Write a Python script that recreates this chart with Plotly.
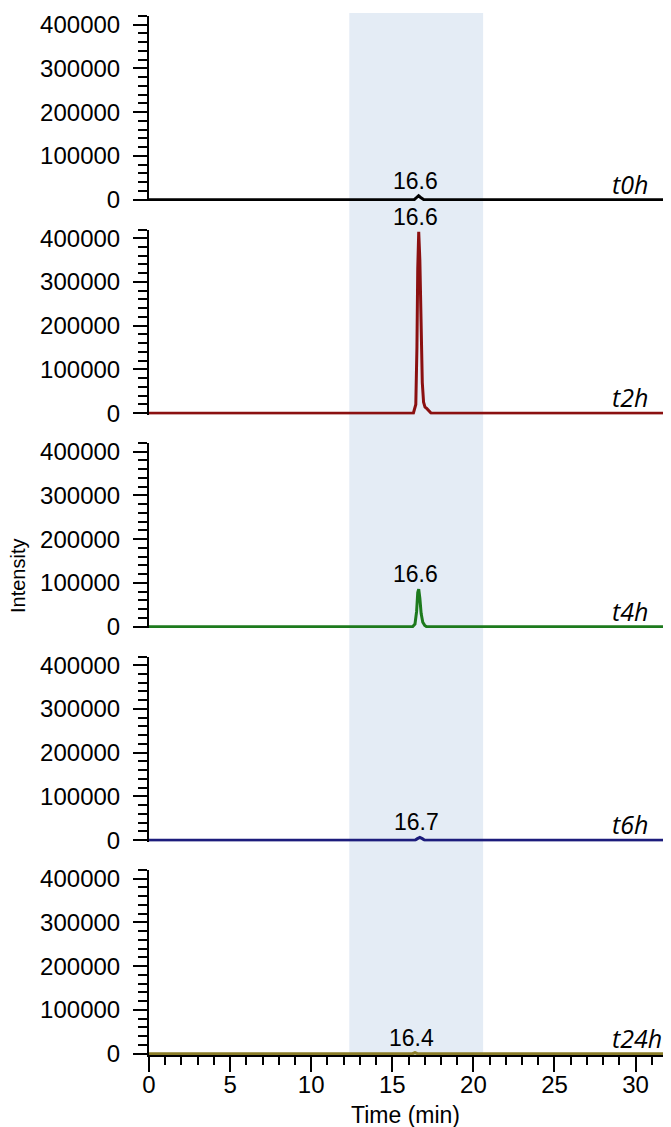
import plotly.graph_objects as go

# ---- data ----
sample_labels = ["t0h", "t2h", "t4h", "t6h", "t24h"]
line_colors = ["#000000", "#8b1010", "#1d7a1d", "#1c1c7c", "#8a7d28"]

t0h_time = [0, 16.35, 16.50, 16.62, 16.75, 16.95, 32]
t0h_intensity = [0, 0, 5000, 9000, 5000, 0, 0]

t2h_time = [0, 16.30, 16.45, 16.52, 16.57, 16.63, 16.70, 16.77, 16.85, 16.93, 17.02, 17.12, 17.22, 17.32, 17.40, 32]
t2h_intensity = [0, 0, 20000, 150000, 330000, 415000, 350000, 200000, 70000, 25000, 14000, 11000, 7000, 2000, 0, 0]

t4h_time = [0, 16.25, 16.40, 16.50, 16.57, 16.63, 16.70, 16.78, 16.88, 17.00, 17.12, 32]
t4h_intensity = [0, 0, 6000, 35000, 78000, 86000, 65000, 30000, 10000, 3000, 0, 0]

t6h_time = [0, 16.40, 16.55, 16.70, 16.85, 17.00, 32]
t6h_intensity = [0, 0, 3500, 6500, 3500, 0, 0]

t24h_time = [0, 16.25, 16.40, 16.55, 32]
t24h_intensity = [0, 0, 2500, 0, 0]

peak_rt = [16.6, 16.6, 16.6, 16.7, 16.4]
peak_labels = ["16.6", "16.6", "16.6", "16.7", "16.4"]

highlight_start = 12.35
highlight_end = 20.6

x_ticks_step = 5
y_tick_step = 100000
y_max = 420000
x_max = 32

series_time = [t0h_time, t2h_time, t4h_time, t6h_time, t24h_time]
series_int = [t0h_intensity, t2h_intensity, t4h_intensity, t6h_intensity, t24h_intensity]

# ---- figure (page body adds an 8px margin, so compensate) ----
OFF = 8
W, H = 671 - OFF, 1127 - OFF
ml, mr, mt, mb = 149 - OFF, 3, 15 - OFF, 72
plot_w = W - ml - mr
plot_h = H - mt - mb
pitch = 213.5 / plot_h
ph = 185 / plot_h


def paper_y(y_screen):
    return (H - mb - (y_screen - OFF)) / plot_h


def paper_x(x_screen):
    return ((x_screen - OFF) - ml) / plot_w


TICKFONT = dict(family="Liberation Sans, Arial, sans-serif", size=24, color="black")
LABELFONT = dict(family="Liberation Sans, Arial, sans-serif", size=23, color="black")

fig = go.Figure()
n = len(sample_labels)
layout_axes = {}
annotations = []
for i in range(n):
    yname = "y" if i == 0 else f"y{i+1}"
    ykey = "yaxis" if i == 0 else f"yaxis{i+1}"
    k = n - 1 - i  # position from bottom
    dom = [pitch * k, min(1.0, pitch * k + ph)]
    fig.add_trace(go.Scatter(
        x=series_time[i], y=series_int[i], mode="lines",
        line=dict(color=line_colors[i], width=3),
        xaxis="x", yaxis=yname, showlegend=False, hoverinfo="skip"))
    layout_axes[ykey] = dict(
        domain=dom, anchor="x", range=[-3000, y_max],
        tickmode="linear", tick0=0, dtick=y_tick_step, tickformat="d",
        showline=True, linecolor="black", linewidth=2,
        ticks="outside", ticklen=14, tickwidth=2, tickcolor="black",
        minor=dict(dtick=20000, tick0=0, ticks="outside", ticklen=9, tickwidth=2, tickcolor="black"),
        showgrid=False, zeroline=False, tickfont=TICKFONT, ticklabelstandoff=8,
    )
    # peak label
    annotations.append(dict(
        x=peak_rt[i], y=max(series_int[i]), xref="x", yref=yname,
        text=peak_labels[i], showarrow=False, xanchor="center", yanchor="bottom",
        xshift=-3, yshift=0, font=LABELFONT))
    # sample label
    annotations.append(dict(
        x=28.45, y=0, xref="x", yref=yname, text=f"<i>{sample_labels[i]}</i>",
        showarrow=False, xanchor="left", yanchor="bottom", yshift=-3,
        font=dict(family="Open Sans, sans-serif", size=25, color="black")))

annotations.append(dict(
    x=paper_x(18), y=paper_y(576), xref="paper", yref="paper",
    text="Intensity", textangle=-90, showarrow=False, xanchor="center", yanchor="middle",
    font=dict(family="Liberation Sans, Arial, sans-serif", size=20, color="black")))
annotations.append(dict(
    x=paper_x(405), y=paper_y(1115), xref="paper", yref="paper",
    text="Time (min)", showarrow=False, xanchor="center", yanchor="middle",
    font=dict(family="Liberation Sans, Arial, sans-serif", size=23, color="black")))

fig.update_layout(
    width=W, height=H, margin=dict(l=ml, r=mr, t=mt, b=mb),
    paper_bgcolor="white", plot_bgcolor="white",
    xaxis=dict(domain=[0, 1], anchor="y5", range=[0, x_max],
               tickmode="linear", tick0=0, dtick=x_ticks_step,
               showline=True, linecolor="black", linewidth=2,
               ticks="outside", ticklen=15, tickwidth=2, tickcolor="black",
               minor=dict(dtick=1, tick0=0, ticks="outside", ticklen=8, tickwidth=2, tickcolor="black"),
               showgrid=False, zeroline=False, tickfont=TICKFONT, ticklabelstandoff=-8),
    annotations=annotations,
    shapes=[dict(type="rect", xref="x", yref="paper", x0=highlight_start, x1=highlight_end,
                 y0=0, y1=paper_y(13), fillcolor="#e4ecf5", line=dict(width=0),
                 layer="below")],
    **layout_axes,
)

fig.write_html("out.html")
